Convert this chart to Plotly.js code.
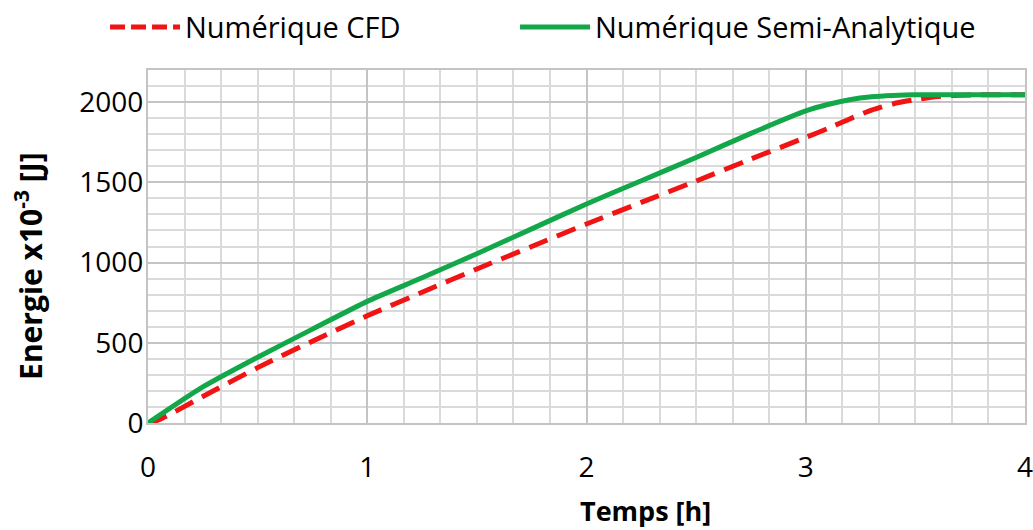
<!DOCTYPE html>
<html>
<head>
<meta charset="utf-8">
<script src="https://cdn.plot.ly/plotly-3.0.1.min.js"></script>
<style>html,body{margin:0;padding:0;background:#fff;}#chart{width:1033px;height:530px;}</style>
</head>
<body>
<div id="chart"></div>
<script>
// Time (h) and energy (x10^-3 J)
const tCFD = [0, 0.05, 0.25, 0.5, 0.75, 1, 1.25, 1.5, 1.75, 2, 2.25, 2.5, 2.75, 3, 3.1, 3.2, 3.3, 3.4, 3.5, 3.6, 3.7, 3.8, 4];
const eCFD = [0, 20, 165, 345, 510, 668, 815, 960, 1100, 1240, 1375, 1508, 1645, 1780, 1835, 1895, 1950, 1990, 2015, 2035, 2043, 2045, 2045];
const tSA = [0, 0.25, 0.5, 0.75, 1, 1.25, 1.5, 1.75, 2, 2.25, 2.5, 2.75, 3, 3.1, 3.2, 3.3, 3.4, 3.5, 3.75, 4];
const eSA = [0, 225, 410, 585, 758, 905, 1055, 1210, 1365, 1510, 1655, 1805, 1945, 1985, 2015, 2033, 2041, 2045, 2045, 2045];
const seriesNames = ['Numérique CFD', 'Numérique Semi-Analytique'];
const seriesColors = ['#f01414', '#12a84a'];
const seriesDash = ['20px,10px', 'solid'];
const xTickVals = [0, 1, 2, 3, 4];
const yTickVals = [0, 500, 1000, 1500, 2000];
const xTitle = 'Temps [h]';
const yTitle = 'Energie x10<sup>-3</sup> [J]';

const traces = [
  {x: tCFD, y: eCFD, name: seriesNames[0], mode: 'lines', showlegend: false,
   line: {color: seriesColors[0], width: 5, dash: seriesDash[0], shape: 'spline', smoothing: 0.6}},
  {x: tSA, y: eSA, name: seriesNames[1], mode: 'lines', showlegend: false,
   line: {color: seriesColors[1], width: 5, dash: seriesDash[1], shape: 'spline', smoothing: 0.6}}
];

// Legend drawn as decoration (sample line + label) above the plot
const legendPos = [{x0: -0.0433, x1: 0.0365, tx: 0.0399}, {x0: 0.4242, x1: 0.504, tx: 0.5074}];
const legendY = 1.122;
const shapes = legendPos.map((p, i) => ({
  type: 'line', xref: 'paper', yref: 'paper', x0: p.x0, x1: p.x1, y0: legendY, y1: legendY,
  line: {color: seriesColors[i], width: 5, dash: i === 0 ? '15px,6px' : 'solid'}
}));
const legendAnn = legendPos.map((p, i) => ({
  text: seriesNames[i], xref: 'paper', yref: 'paper', x: p.tx, y: legendY,
  xanchor: 'left', yanchor: 'middle', showarrow: false,
  font: {size: 29, family: 'Open Sans', color: '#000'}
}));

const majorGrid = '#c4c4c4';
const minorGrid = '#dadada';
const layout = {
  width: 1033, height: 530,
  margin: {l: 148, r: 8, t: 70, b: 107},
  paper_bgcolor: '#fff', plot_bgcolor: '#fff',
  font: {family: 'Open Sans, sans-serif', color: '#000'},
  showlegend: false,
  xaxis: {range: [0, 4], tickvals: xTickVals, ticktext: xTickVals.map(String),
          showgrid: true, gridcolor: majorGrid, gridwidth: 2,
          minor: {dtick: 1/6, tick0: 0, showgrid: true, gridcolor: minorGrid, gridwidth: 2},
          showline: true, linecolor: majorGrid, linewidth: 2, mirror: true,
          zeroline: false, ticks: '', ticklabelstandoff: 18, ticklabeloverflow: 'allow',
          tickfont: {size: 28, family: 'Open Sans'}},
  yaxis: {range: [0, 2200], tickvals: yTickVals, ticktext: yTickVals.map(String),
          showgrid: true, gridcolor: majorGrid, gridwidth: 2,
          minor: {dtick: 100, tick0: 0, showgrid: true, gridcolor: minorGrid, gridwidth: 2},
          showline: true, linecolor: majorGrid, linewidth: 2, mirror: true,
          zeroline: false, ticks: '', ticklabelstandoff: -3,
          tickfont: {size: 28, family: 'Open Sans'}},
  shapes: shapes,
  annotations: legendAnn.concat([
    {text: '<b>' + xTitle + '</b>', xref: 'paper', yref: 'paper', x: 0.567, y: -0.249,
     xanchor: 'center', yanchor: 'middle', showarrow: false, font: {size: 27, family: 'Open Sans'}},
    {text: '<b>' + yTitle + '</b>', xref: 'paper', yref: 'paper', x: -0.1357, y: 0.445,
     xanchor: 'center', yanchor: 'middle', textangle: -90, showarrow: false,
     font: {size: 30, family: 'Open Sans'}}
  ])
};

Plotly.newPlot('chart', traces, layout, {displayModeBar: false, staticPlot: true});
</script>
</body>
</html>
